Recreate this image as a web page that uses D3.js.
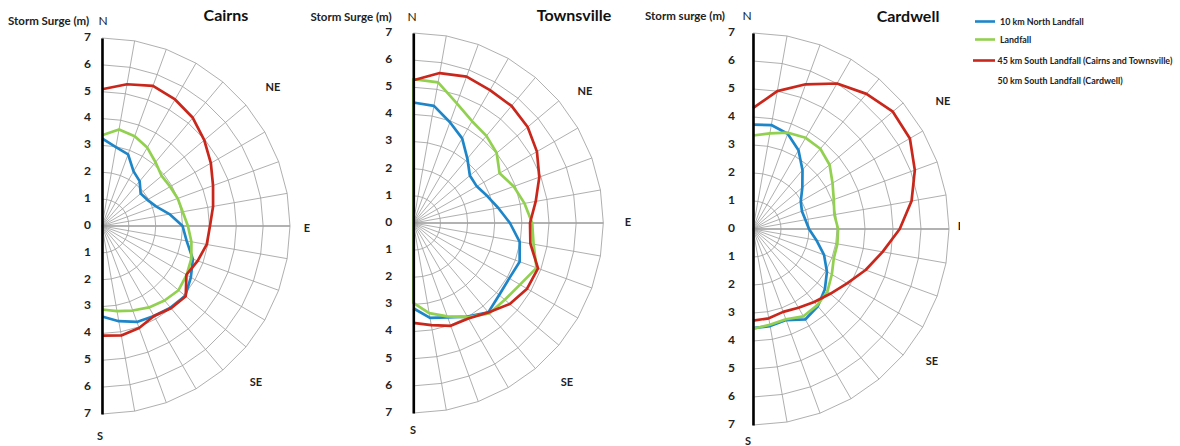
<!DOCTYPE html>
<html>
<head>
<meta charset="utf-8">
<script src="https://cdn.jsdelivr.net/npm/d3@7"></script>
<style>
body{margin:0;background:#fff;}
svg{font-family:Lato, "Open Sans", sans-serif;}
.tick line{visibility:hidden;}
</style>
</head>
<body>
<svg id="chart" width="1180" height="446"></svg>
<script>
// compass bearings of the spokes, degrees clockwise from N
const bearings = [0,10,20,30,40,50,60,70,80,90,100,110,120,130,140,150,160,170,180];
const rings = [1,2,3,4,5,6,7];
const axisTicks = [-7,-6,-5,-4,-3,-2,-1,0,1,2,3,4,5,6,7];
const seriesNames = ["10 km North Landfall","Landfall","45 km South Landfall (Cairns and Townsville)","50 km South Landfall (Cardwell)"];
const seriesColors = ["#1e86c8","#92d050","#c9271b"];

// storm surge (m) per bearing
const cairnsNorth10  = [3.26,2.98,2.84,2.35,2.18,1.88,1.95,2.14,2.55,3.0,3.2,3.6,3.82,4.05,3.97,3.87,3.8,3.6,3.37];
const cairnsLandfall = [3.38,3.65,3.56,3.37,3.1,2.9,2.93,3.0,3.05,3.2,3.38,3.54,3.64,3.72,3.62,3.5,3.35,3.22,3.11];
const cairnsSouth    = [5.09,5.36,5.55,5.44,5.26,4.97,4.68,4.4,4.2,4.02,3.96,3.79,3.63,4.07,4.0,3.87,4.04,4.14,4.08];

const townsvilleNorth10  = [4.44,4.38,3.95,3.6,3.1,2.72,2.7,2.9,3.18,3.56,3.98,4.17,4.08,4.13,4.3,3.98,3.7,3.55,3.14];
const townsvilleLandfall = [5.3,5.26,4.69,4.33,4.19,4.01,3.67,3.94,4.16,4.38,4.5,4.83,4.54,4.4,4.35,4.01,3.66,3.37,2.94];
const townsvilleSouth    = [5.26,5.61,5.74,5.65,5.63,5.5,5.26,4.94,4.58,4.3,4.38,4.89,4.84,4.64,4.3,4.06,4.03,3.82,3.68];

const cardwellNorth10  = [3.73,3.77,3.62,3.25,2.75,2.3,1.97,1.86,1.9,2.0,2.3,2.7,3.05,3.35,3.6,3.73,3.46,3.52,3.54];
const cardwellLandfall = [3.34,3.47,3.66,3.76,3.74,3.57,3.28,3.07,2.95,3.04,3.06,3.07,3.25,3.47,3.56,3.6,3.43,3.47,3.57];
const cardwellSouth    = [4.32,5.0,5.5,6.0,6.3,6.52,6.47,6.15,5.75,5.24,4.7,4.28,3.88,3.6,3.4,3.25,3.15,3.24,3.27];

// layout of each panel
let charts = [
  {title:"Cairns", unit:"Storm Surge (m)", cx:102, cy:226, R:188, pad:11,
   series:[cairnsNorth10,cairnsLandfall,cairnsSouth], closed:[false,false,false],
   titlePos:[226,20.5], unitPos:[8,25], dirs:[["N",103,25,false],["NE",273,91],["E",307,232],["SE",256,386],["S",100,440]]},
  {title:"Townsville", unit:"Storm Surge (m)", cx:413.3, cy:223, R:190, pad:21,
   series:[townsvilleNorth10,townsvilleLandfall,townsvilleSouth], closed:[false,true,false],
   titlePos:[574,21], unitPos:[310.5,21], dirs:[["N",412,21,false],["NE",585,95],["E",628,226],["SE",567,386],["S",413,434]]},
  {title:"Cardwell", unit:"Storm surge (m)", cx:753, cy:229, R:196, pad:18,
   series:[cardwellNorth10,cardwellLandfall,cardwellSouth], closed:[false,false,false],
   titlePos:[908,21.5], unitPos:[645,20], dirs:[["N",747,20,false],["NE",943,105],["E",961,230],["SE",932,365],["S",748,444.5]], clip:960}
];

let svg = d3.select("#chart");

svg.append("clipPath").attr("id","clip960")
  .append("rect").attr("x",0).attr("y",0).attr("width",960).attr("height",446);

charts.forEach(function(c){
  let g = svg.append("g");
  if(c.clip) g.attr("clip-path","url(#clip960)");

  let r = d3.scaleLinear().domain([0,7]).range([0,c.R]);
  let y = d3.scaleLinear().domain([-7,7]).range([c.cy+c.R, c.cy-c.R]);
  let plot = g.append("g").attr("transform","translate("+c.cx+","+c.cy+")");

  // spokes
  plot.selectAll(".spoke").data(bearings).enter().append("line")
    .attr("x1",0).attr("y1",0)
    .attr("x2",function(d){return r(7)*Math.sin(d*Math.PI/180)})
    .attr("y2",function(d){return -r(7)*Math.cos(d*Math.PI/180)})
    .attr("stroke",function(d){return d==90 ? "#999" : "#a0a0a0"})
    .attr("stroke-width",function(d){return d==90 ? 1.6 : 0.85});

  // polygonal rings
  let ringLine = d3.lineRadial()
    .angle(function(d){return d*Math.PI/180});
  plot.selectAll(".ring").data(rings).enter().append("path")
    .attr("fill","none")
    .attr("stroke","#a0a0a0")
    .attr("stroke-width",0.85)
    .attr("d",function(v){return ringLine.radius(r(v))(bearings)});

  // vertical N-S axis
  g.append("g")
    .attr("transform","translate("+c.cx+",0)")
    .call(d3.axisLeft(y).tickValues(axisTicks).tickSize(0).tickSizeOuter(0).tickPadding(c.pad)
      .tickFormat(function(d){return Math.abs(d)}))
    .call(function(a){
      a.select(".domain").attr("stroke","#000").attr("stroke-width",2.6);
      a.selectAll("text").attr("font-family","Lato, sans-serif").attr("font-size",12)
        .attr("font-weight","bold").attr("fill","#222").attr("dy","0.2em");
    });

  // series
  c.series.forEach(function(vals,i){
    let ln = d3.lineRadial()
      .angle(function(d,j){return bearings[j]*Math.PI/180})
      .radius(function(d){return r(d)});
    if(c.closed[i]) ln.curve(d3.curveLinearClosed);
    plot.append("path")
      .datum(vals)
      .attr("fill","none")
      .attr("stroke",seriesColors[i])
      .attr("stroke-width",2.7)
      .attr("stroke-linejoin","round")
      .attr("d",ln);
  });

  // texts
  g.append("text").attr("x",c.titlePos[0]).attr("y",c.titlePos[1])
    .attr("text-anchor","middle").attr("font-size",16).attr("font-weight","bold").attr("fill","#111")
    .text(c.title);
  g.append("text").attr("x",c.unitPos[0]).attr("y",c.unitPos[1])
    .attr("font-size",11.5).attr("font-weight","bold").attr("fill","#222")
    .text(c.unit);
  c.dirs.forEach(function(d){
    g.append("text").attr("x",d[1]).attr("y",d[2])
      .attr("text-anchor","middle").attr("font-size",d[3]===false ? 12 : 11)
      .attr("font-weight",d[3]===false ? "normal" : "bold").attr("fill","#222")
      .text(d[0]);
  });
});

// legend
let legend = svg.append("g");
let legendRows = [21.5,39.5,60.5,80.5];
seriesNames.forEach(function(name,i){
  if(i < seriesColors.length){
    legend.append("line")
      .attr("x1",i==2 ? 973 : 975).attr("x2",995)
      .attr("y1",legendRows[i]).attr("y2",legendRows[i])
      .attr("stroke",seriesColors[i]).attr("stroke-width",2.6);
  }
  legend.append("text")
    .attr("x",i < 2 ? 1000 : 997.5).attr("y",legendRows[i]).attr("dy","0.35em")
    .attr("font-size",8.9).attr("font-weight","bold").attr("fill","#222")
    .text(name);
});
</script>
</body>
</html>
